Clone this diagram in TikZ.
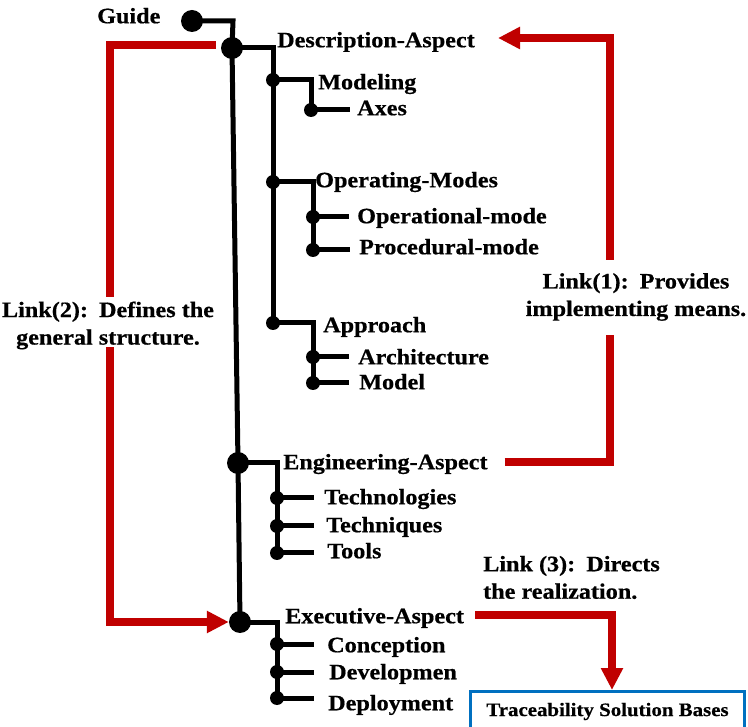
\documentclass[tikz,border=0pt]{standalone}
\usepackage{fontspec}
\setmainfont{Liberation Serif}[FakeStretch=1.1,BoldFeatures={FakeBold=0.6}]
\usetikzlibrary{arrows.meta}
\definecolor{linkred}{RGB}{192,0,0}
\definecolor{boxblue}{RGB}{0,112,192}
\begin{document}
\begin{tikzpicture}[x=1pt,y=-1pt,
  txt/.style={anchor=west,inner sep=0pt,text height=14.5pt,text depth=0pt,
    font=\fontsize{22}{27.5}\selectfont\bfseries},
  linklbl/.style={inner sep=0pt,font=\fontsize{22}{27.5}\selectfont\bfseries},
  bigdot/.style={circle,fill=black,inner sep=0pt,minimum size=22pt},
  smalldot/.style={circle,fill=black,inner sep=0pt,minimum size=14pt},
  tree/.style={line width=5pt,black},
  link/.style={line width=7.5pt,linkred},
  linkarrow/.style={link,-{Triangle[length=22pt,width=21pt]}}]
\useasboundingbox (0,0) rectangle (748,727);

% ---- labels of the tree ----
\node[txt] (guide) at (97,16) {Guide};
\node[txt] (desc) at (277,40) {Description-Aspect};
\node[txt] (model) at (318,82) {Modeling};
\node[txt] (axes) at (357,108) {Axes};
\node[txt] (opm) at (315,180) {Operating-Modes};
\node[txt] (opl) at (357,216) {Operational-mode};
\node[txt] (proc) at (359,247) {Procedural-mode};
\node[txt] (appr) at (323,325) {Approach};
\node[txt] (arch) at (358,357) {Architecture};
\node[txt] (mdl) at (359,382) {Model};
\node[txt] (eng) at (283,462) {Engineering-Aspect};
\node[txt] (tech) at (324,497) {Technologies};
\node[txt] (tq) at (326,525) {Techniques};
\node[txt] (tools) at (327,551) {Tools};
\node[txt] (exe) at (285,616) {Executive-Aspect};
\node[txt] (conc) at (327,645) {Conception};
\node[txt] (dev) at (329,672) {Developmen};
\node[txt] (depl) at (328,703) {Deployment};

% ---- tree lines ----
\coordinate (trunktop) at (233,21);
\coordinate (gdot) at (192,21);
\coordinate (ddesc) at (232,48);
\coordinate (deng) at (238,463);
\coordinate (dexe) at (240,622);
\coordinate (dmodel) at (273,80);
\coordinate (daxes) at (311,110);
\coordinate (dopm) at (273,182);
\coordinate (dopl) at (313,217);
\coordinate (dproc) at (313,250);
\coordinate (dappr) at (273,323);
\coordinate (darch) at (313,357);
\coordinate (dmdl) at (313,383);
\coordinate (dtech) at (277,498);
\coordinate (dtq) at (277,526);
\coordinate (dtools) at (277,553);
\coordinate (dconc) at (277,644);
\coordinate (ddev) at (277,672);
\coordinate (ddepl) at (277,698);

\draw[tree] (gdot) -- (trunktop) -- (ddesc) -- (deng) -- (dexe);
\draw[tree] (ddesc) -| (dappr);
\draw[tree] (dmodel) -| (daxes) -- (daxes -| 350,0);
\draw[tree] (dopm) -| (dproc);
\draw[tree] (dopl) -- (dopl -| 349,0);
\draw[tree] (dproc) -- (dproc -| 350,0);
\draw[tree] (dappr) -| (dmdl);
\draw[tree] (darch) -- (darch -| 349,0);
\draw[tree] (dmdl) -- (dmdl -| 349,0);
\draw[tree] (deng) -| (dtools);
\draw[tree] (dtech) -- (dtech -| 314,0);
\draw[tree] (dtq) -- (dtq -| 314,0);
\draw[tree] (dtools) -- (dtools -| 314,0);
\draw[tree] (dexe) -| (ddepl);
\draw[tree] (dconc) -- (dconc -| 314,0);
\draw[tree] (ddev) -- (ddev -| 314,0);
\draw[tree] (ddepl) -- (ddepl -| 314,0);

% ---- dots ----
\node[bigdot] (ngd) at (gdot) {};
\node[bigdot] (nds) at (ddesc) {};
\node[bigdot] (nen) at (deng) {};
\node[bigdot] (nex) at (dexe) {};
\foreach \p in {dmodel,daxes,dopm,dopl,dproc,dappr,darch,dmdl,dtech,dtq,dtools,dconc,ddev,ddepl}
  \node[smalldot] at (\p) {};

% ---- link labels ----
\node[linklbl,align=center] (l1) at (636,297) {Link(1):\hspace{3pt} Provides\\implementing means.};
\node[linklbl,align=center] (l2) at (108,325.5) {Link(2):\hspace{3pt} Defines the\\general structure.};
\node[linklbl,align=left,anchor=west] (l3) at (483,577.5) {Link (3):\hspace{3pt} Directs\\the realization.};

% ---- target box ----
\node[draw=boxblue,line width=3pt,minimum width=274pt,minimum height=40pt,inner sep=0pt,
  anchor=north,font=\fontsize{19}{22}\selectfont\bfseries] (tsb) at (607.5,690)
  {Traceability Solution Bases};

% ---- red links ----
\coordinate (l1bot) at (610,335);
\coordinate (l1top) at (610,260);
\coordinate (l1tip) at (498,38);
\draw[link] ([xshift=17pt]eng.east) -| (l1bot);
\draw[linkarrow] (l1top) |- (l1tip);

\coordinate (l2start) at (216,45);
\coordinate (l2top) at (110,297);
\coordinate (l2bot) at (110,347);
\draw[link] (l2start) -| (l2top);
\draw[linkarrow] (l2bot) |- (nex.west);

\coordinate (l3start) at (475,615);
\draw[linkarrow] (l3start) -| (tsb.north -| 612,0);
\end{tikzpicture}
\end{document}
